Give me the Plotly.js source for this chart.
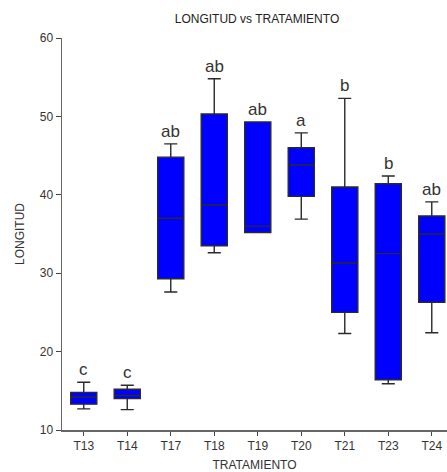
<!DOCTYPE html>
<html>
<head>
<meta charset="utf-8">
<script src="https://cdn.plot.ly/plotly-3.0.1.min.js"></script>
<style>
  html, body { margin: 0; padding: 0; background: #ffffff; }
  #chart { width: 447px; height: 472px; }
</style>
</head>
<body>
<div id="chart"></div>
<script>
// Treatments and their box summaries (LONGITUD)
const tratamientos = ["T13", "T14", "T17", "T18", "T19", "T20", "T21", "T23", "T24"];
const minimos   = [12.7, 12.6, 27.6, 32.6, 35.2, 36.9, 22.3, 15.9, 22.4];
const q1        = [13.3, 14.0, 29.3, 33.5, 35.2, 39.8, 25.0, 16.4, 26.3];
const medianas  = [14.2, 14.4, 37.0, 38.7, 36.0, 43.8, 31.3, 32.5, 35.0];
const q3        = [14.8, 15.2, 44.8, 50.3, 49.3, 46.0, 41.0, 41.4, 37.3];
const maximos   = [16.1, 15.7, 46.5, 54.8, 49.3, 47.9, 52.3, 42.4, 39.1];
// Significance groups shown above each box
const grupos    = ["c", "c", "ab", "ab", "ab", "a", "b", "b", "ab"];

const trace = {
  type: "box",
  x: tratamientos,
  lowerfence: minimos,
  q1: q1,
  median: medianas,
  q3: q3,
  upperfence: maximos,
  boxpoints: false,
  fillcolor: "#0000ff",
  line: { color: "#2a2a2a", width: 1.4 },
  whiskerwidth: 0.5,
  width: 0.6,
  hoverinfo: "skip",
  showlegend: false
};

const anotaciones = tratamientos.map((t, i) => ({
  x: t,
  y: maximos[i],
  xref: "x",
  yref: "y",
  text: grupos[i],
  showarrow: false,
  yanchor: "bottom",
  yshift: 1,
  font: { family: "Liberation Sans, Arial, sans-serif", size: 17, color: "#333333" }
}));

const layout = {
  width: 447,
  height: 472,
  margin: { l: 62, r: 0, t: 37.5, b: 42 },
  paper_bgcolor: "#ffffff",
  plot_bgcolor: "#ffffff",
  font: { family: "Liberation Sans, Arial, sans-serif", size: 12, color: "#333333" },
  title: {
    text: "LONGITUD vs TRATAMIENTO",
    font: { size: 12, color: "#222222" },
    x: 0.575,
    xanchor: "center",
    y: 0.96,
    yanchor: "middle"
  },
  xaxis: {
    type: "category",
    range: [-0.5, 8.35],
    showgrid: false,
    zeroline: false,
    showline: true,
    linecolor: "#666666",
    linewidth: 1.5,
    ticks: "outside",
    ticklen: 4,
    tickcolor: "#444444",
    tickfont: { size: 12, color: "#333333" },
    title: { text: "TRATAMIENTO", font: { size: 12, color: "#333333" }, standoff: 10 }
  },
  yaxis: {
    range: [10, 60],
    tickvals: [10, 20, 30, 40, 50, 60],
    showgrid: false,
    zeroline: false,
    showline: true,
    linecolor: "#666666",
    linewidth: 1.5,
    ticks: "outside",
    ticklen: 5,
    tickcolor: "#444444",
    tickfont: { size: 12, color: "#333333" },
    title: { text: "LONGITUD", font: { size: 12, color: "#333333" }, standoff: 12 }
  },
  annotations: anotaciones
};

Plotly.newPlot("chart", [trace], layout, { staticPlot: true, displayModeBar: false });
</script>
</body>
</html>
